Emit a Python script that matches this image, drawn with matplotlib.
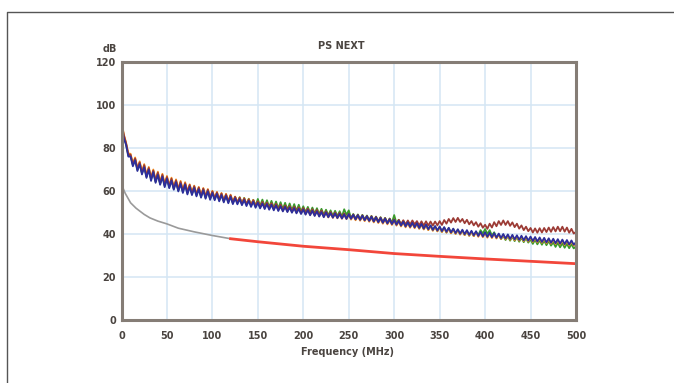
import numpy as np
import matplotlib
matplotlib.use("Agg")
import matplotlib.pyplot as plt
from matplotlib.lines import Line2D

plt.rcParams['font.family'] = ['DejaVu Sans']

# Frequency grid (MHz) for the measured traces
freq = np.arange(0, 500.1, 2.5)

pair_blue = [
    91.5, 84.5, 81.5, 76.0, 76.0, 71.5, 74.3, 69.3, 72.5, 67.7,
    71.0, 66.1, 69.9, 64.7, 68.8, 63.8, 67.5, 62.9, 66.7, 61.8,
    65.7, 61.3, 64.8, 60.6, 64.1, 59.8, 63.3, 59.1, 62.9, 58.4,
    62.0, 58.1, 61.4, 57.5, 60.8, 56.9, 60.3, 56.4, 59.8, 55.9,
    59.1, 55.7, 58.6, 55.2, 58.1, 54.7, 57.7, 54.3, 57.3, 53.9,
    56.6, 53.8, 56.2, 53.4, 55.8, 53.0, 55.4, 52.6, 55.0, 52.2,
    54.5, 51.9, 54.2, 51.6, 53.9, 51.3, 53.6, 51.0, 53.3, 50.7,
    52.9, 50.5, 52.6, 50.2, 52.3, 49.9, 52.0, 49.6, 51.7, 49.3,
    51.4, 49.0, 51.1, 48.7, 50.8, 48.4, 50.5, 48.1, 50.2, 47.8,
    50.0, 47.8, 49.7, 47.6, 49.5, 47.4, 49.3, 47.2, 49.1, 47.0,
    49.2, 47.1, 48.9, 46.8, 48.7, 46.6, 48.5, 46.4, 48.2, 46.1,
    48.0, 45.8, 47.7, 45.5, 47.4, 45.2, 47.1, 44.9, 46.8, 44.6,
    46.5, 44.3, 46.1, 43.9, 45.7, 43.5, 45.4, 43.3, 45.2, 43.1,
    45.0, 42.8, 44.7, 42.5, 44.4, 42.2, 44.0, 41.9, 43.7, 41.6,
    43.5, 41.3, 43.2, 41.0, 42.9, 40.7, 42.5, 40.4, 42.2, 40.1,
    42.0, 39.9, 41.8, 39.6, 41.5, 39.4, 41.3, 39.1, 41.0, 38.9,
    40.8, 38.7, 40.6, 38.5, 40.4, 38.3, 40.2, 38.1, 40.0, 37.9,
    39.8, 37.7, 39.6, 37.5, 39.4, 37.3, 39.2, 37.1, 39.0, 36.9,
    38.8, 36.7, 38.6, 36.5, 38.4, 36.3, 38.2, 36.1, 38.0, 35.9,
    37.8, 35.7, 37.6, 35.5, 37.4, 35.3, 37.2, 35.1, 37.0, 35.0,
    36.2,
]

pair_orange = [
    92.5, 86.5, 82.5, 77.5, 77.3, 72.8, 75.6, 70.6, 73.8, 69.0,
    72.5, 67.4, 71.2, 66.2, 70.0, 65.1, 69.0, 64.1, 68.0, 63.2,
    67.0, 62.6, 66.2, 61.8, 65.4, 61.0, 64.7, 60.4, 64.1, 59.8,
    63.1, 59.2, 62.5, 58.6, 61.9, 58.0, 61.4, 57.5, 60.9, 57.0,
    60.1, 56.7, 59.6, 56.2, 59.1, 55.7, 58.7, 55.3, 58.3, 54.9,
    57.4, 54.6, 57.0, 54.2, 56.6, 53.8, 56.2, 53.4, 55.8, 53.0,
    55.0, 52.4, 54.7, 52.1, 54.4, 51.8, 54.1, 51.5, 53.8, 51.2,
    53.2, 50.8, 52.9, 50.5, 52.6, 50.2, 52.3, 49.9, 52.0, 49.6,
    51.6, 49.2, 51.3, 48.9, 51.0, 48.6, 50.7, 48.3, 50.4, 48.0,
    49.9, 47.7, 49.6, 47.5, 49.4, 47.3, 49.2, 47.1, 49.0, 46.9,
    48.8, 46.7, 48.5, 46.4, 48.3, 46.2, 48.1, 46.0, 47.8, 45.7,
    47.6, 45.4, 47.3, 45.1, 47.0, 44.8, 46.7, 44.5, 46.4, 44.2,
    46.1, 43.9, 45.7, 43.5, 45.3, 43.1, 45.0, 42.9, 44.8, 42.7,
    44.6, 42.4, 44.3, 42.1, 44.0, 41.8, 43.6, 41.5, 43.3, 41.2,
    43.1, 40.9, 42.8, 40.6, 42.5, 40.3, 42.1, 40.0, 41.8, 39.7,
    41.6, 39.5, 41.4, 39.2, 41.1, 39.0, 40.9, 38.7, 40.6, 38.5,
    40.4, 38.3, 40.2, 38.1, 40.0, 37.9, 39.8, 37.7, 39.6, 37.5,
    39.4, 37.3, 39.2, 37.1, 39.0, 36.9, 38.8, 36.7, 38.6, 36.5,
    38.4, 36.3, 38.2, 36.1, 38.0, 35.9, 37.8, 35.7, 37.6, 35.5,
    37.4, 35.3, 37.2, 35.1, 37.0, 34.9, 36.8, 34.7, 36.6, 34.6,
    35.8,
]

pair_green = [
    91.8, 85.5, 81.8, 76.5, 76.5, 72.0, 74.8, 69.8, 73.0, 68.2,
    71.7, 66.6, 70.4, 65.4, 69.2, 64.3, 68.2, 63.3, 67.2, 62.4,
    66.2, 61.8, 65.4, 61.0, 64.6, 60.2, 63.9, 59.6, 63.3, 59.0,
    62.5, 58.6, 61.9, 58.0, 61.3, 57.4, 60.8, 56.9, 60.3, 56.4,
    59.6, 56.2, 59.1, 55.7, 58.6, 55.2, 58.2, 54.8, 57.8, 54.4,
    57.2, 54.5, 57.1, 54.0, 56.8, 53.7, 56.4, 53.5, 55.9, 53.1,
    56.3, 53.1, 56.0, 52.8, 55.7, 52.5, 55.4, 52.2, 55.1, 51.9,
    54.8, 51.6, 54.5, 51.3, 54.2, 51.0, 53.9, 50.7, 53.6, 50.4,
    52.9, 50.1, 52.6, 49.8, 52.3, 49.5, 52.0, 49.2, 51.7, 48.9,
    51.3, 48.7, 51.0, 48.5, 50.8, 48.3, 50.6, 48.1, 51.5, 48.9,
    51.0, 47.3, 49.3, 47.0, 49.1, 46.8, 48.9, 46.6, 48.6, 46.3,
    48.4, 46.0, 48.1, 45.7, 47.8, 45.4, 47.5, 45.1, 47.2, 45.3,
    48.8, 45.0, 46.6, 44.3, 46.1, 43.9, 45.8, 43.6, 45.6, 43.4,
    44.8, 42.6, 44.8, 42.3, 44.2, 42.0, 43.9, 41.7, 43.5, 41.4,
    43.2, 41.0, 43.0, 40.7, 42.7, 40.4, 42.3, 40.1, 42.0, 39.9,
    41.6, 39.5, 41.3, 39.2, 41.0, 39.0, 41.0, 39.5, 41.8, 40.2,
    42.3, 40.0, 41.8, 39.3, 40.8, 38.2, 39.8, 37.6, 39.2, 37.2,
    39.0, 36.9, 38.8, 36.7, 38.6, 36.4, 38.3, 36.2, 38.1, 36.0,
    37.5, 35.4, 37.3, 35.2, 37.1, 35.0, 36.9, 34.8, 36.7, 34.6,
    36.1, 34.0, 35.9, 33.8, 35.7, 33.6, 35.5, 33.4, 35.3, 33.3,
    34.3,
]

pair_brown = [
    92.2, 86.0, 82.3, 77.0, 76.8, 72.5, 75.1, 70.3, 73.3, 68.5,
    72.0, 66.9, 70.7, 65.7, 69.5, 64.6, 68.5, 63.6, 67.5, 62.7,
    66.5, 62.1, 65.7, 61.3, 64.9, 60.5, 64.2, 59.9, 63.6, 59.3,
    62.8, 58.9, 62.2, 58.3, 61.6, 57.7, 61.1, 57.2, 60.6, 56.7,
    59.8, 56.4, 59.3, 55.9, 58.8, 55.4, 58.4, 55.0, 58.0, 54.6,
    57.3, 54.5, 56.9, 54.1, 56.5, 53.7, 56.1, 53.3, 55.7, 52.9,
    55.2, 52.6, 54.9, 52.3, 54.6, 52.0, 54.3, 51.7, 54.0, 51.4,
    53.6, 51.2, 53.3, 50.9, 53.0, 50.6, 52.7, 50.3, 52.4, 50.0,
    52.1, 49.7, 51.8, 49.4, 51.5, 49.1, 51.2, 48.8, 50.9, 48.5,
    50.5, 48.3, 50.2, 48.1, 50.0, 47.9, 49.8, 47.7, 49.6, 47.5,
    49.4, 47.3, 49.1, 47.0, 48.9, 46.8, 48.7, 46.6, 48.4, 46.3,
    48.3, 46.1, 48.0, 45.8, 47.7, 45.5, 47.4, 45.2, 47.1, 44.9,
    46.8, 44.6, 46.6, 44.5, 46.4, 44.4, 46.3, 44.4, 46.3, 44.5,
    46.0, 44.0, 45.9, 43.9, 45.9, 43.9, 45.8, 43.9, 45.8, 44.0,
    46.0, 44.2, 46.5, 44.8, 47.0, 45.3, 47.4, 45.6, 47.5, 45.6,
    47.0, 45.0, 46.6, 44.5, 46.0, 44.0, 45.5, 43.4, 45.0, 42.9,
    44.3, 42.4, 44.8, 43.0, 45.5, 43.6, 46.0, 44.2, 46.3, 44.2,
    46.0, 43.8, 45.4, 43.2, 44.8, 42.5, 44.0, 41.8, 43.4, 41.3,
    42.8, 40.7, 42.6, 40.6, 42.7, 40.7, 42.8, 40.9, 43.0, 41.0,
    43.2, 41.2, 43.4, 41.3, 43.4, 41.1, 43.0, 40.6, 42.4, 40.2,
    41.0,
]

# PS NEXT limit line
limit_freq = [1, 2, 4, 6, 8, 10, 16, 20, 25, 31.25, 40, 50, 62.5, 80, 100, 120,
              150, 200, 250, 300, 350, 400, 450, 500]
limit_db = [62.0, 61.0, 59.0, 57.5, 56.0, 54.5, 52.0, 50.7, 49.1, 47.5, 46.0, 44.7,
            42.7, 41.0, 39.3, 37.8, 36.4, 34.3, 32.7, 30.9, 29.6, 28.4, 27.3, 26.2]
limit_split = 120  # grey below, red above

x_ticks = [0, 50, 100, 150, 200, 250, 300, 350, 400, 450, 500]
y_ticks = [0, 20, 40, 60, 80, 100, 120]

W, H = 674, 383
fig = plt.figure(figsize=(W / 100, H / 100), dpi=100)
fig.patch.set_facecolor('white')

# outer frame (left and top edges)
fig.add_artist(Line2D([7 / W, 7 / W, 1.0], [0.0, 1 - 12 / H, 1 - 12 / H],
                      transform=fig.transFigure, color='#555555', lw=1.0))

ax = fig.add_axes([121.5 / W, 1 - 320 / H, (576 - 121.5) / W, (320 - 62) / H])
ax.set_xlim(0, 500)
ax.set_ylim(0, 120)
ax.set_xticks(x_ticks)
ax.set_yticks(y_ticks)
ax.grid(True, color='#d4e6f4', lw=1.1)
ax.set_axisbelow(True)
for s in ax.spines.values():
    s.set_color('#857d76')
    s.set_linewidth(2.2)
ax.tick_params(length=0, labelsize=7, labelcolor='#4a4440')
ax.tick_params(axis='x', pad=8)
ax.tick_params(axis='y', pad=4)
for lab in ax.get_xticklabels() + ax.get_yticklabels():
    lab.set_fontweight('bold')

lw = 1.3
ax.plot(freq, pair_green, color='#3a9a2c', lw=lw)
ax.plot(freq, pair_orange, color='#f38a1f', lw=lw)
ax.plot(freq, pair_brown, color='#9c3b35', lw=lw)
ax.plot(freq, pair_blue, color='#2c2e9c', lw=lw)

lf = np.array(limit_freq)
ld = np.array(limit_db)
lo = lf <= limit_split
hi = lf >= limit_split
ax.plot(lf[lo], ld[lo], color='#9a9a9a', lw=1.2)
ax.plot(lf[hi], ld[hi], color='#f2463a', lw=2.0)

tkw = dict(ha='center', va='center', fontsize=7, color='#4a4440', fontweight='bold')
fig.text(341 / W, 1 - 46 / H, 'PS NEXT', **tkw)
fig.text(110 / W, 1 - 49 / H, 'dB', **tkw)
fig.text(348 / W, 1 - 352 / H, 'Frequency (MHz)', **tkw)

fig.savefig('out.png', dpi=100)
